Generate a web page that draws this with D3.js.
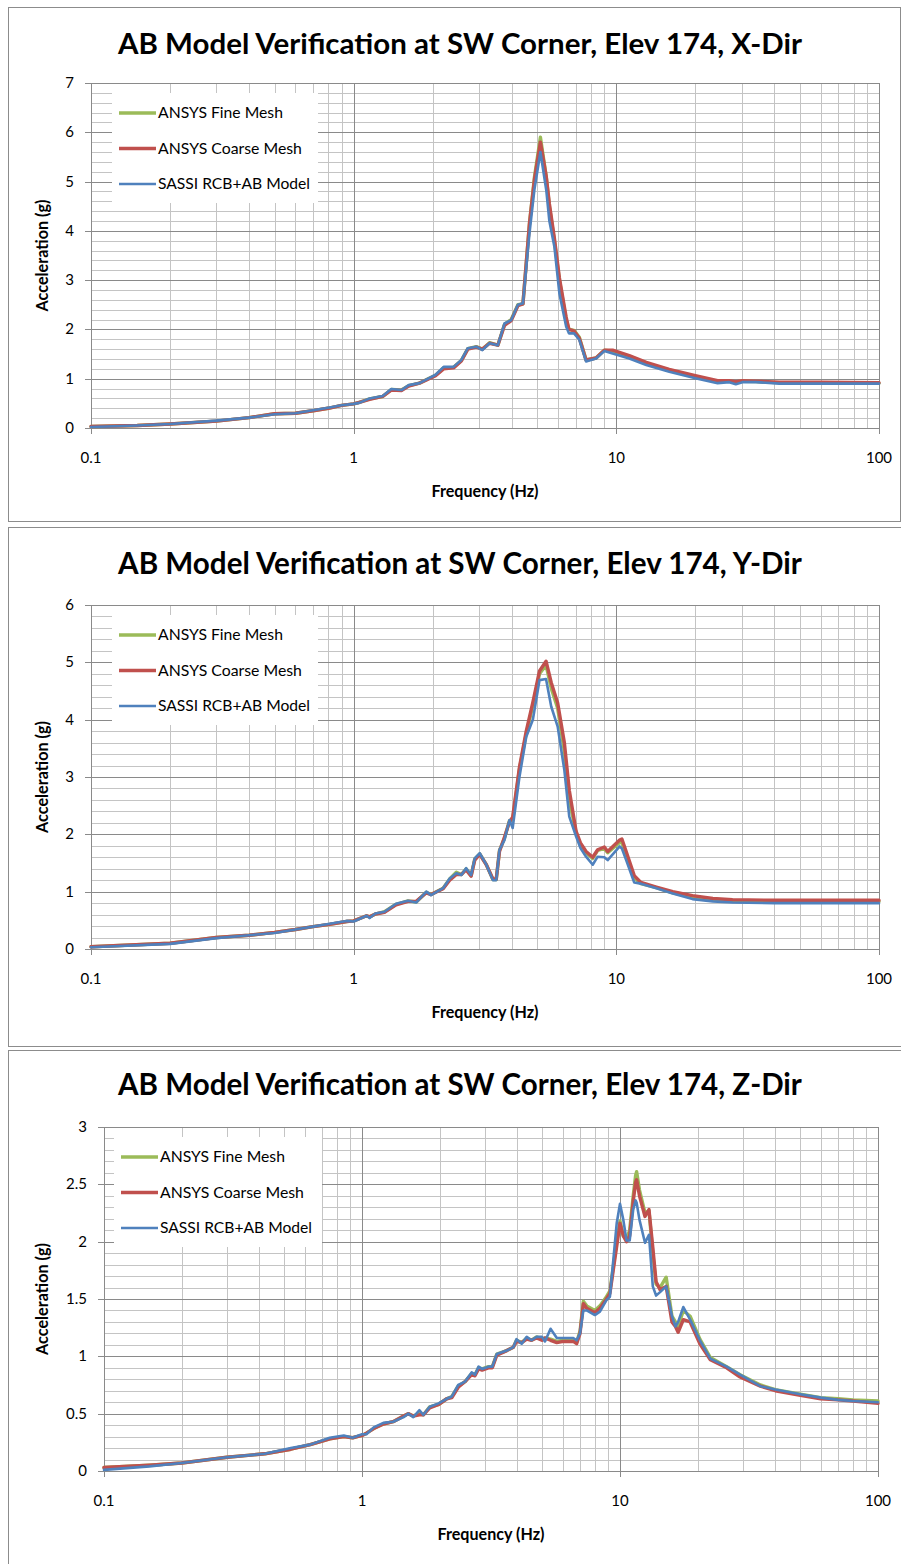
<!DOCTYPE html>
<html><head><meta charset="utf-8">
<script src="https://cdn.jsdelivr.net/npm/d3@7"></script>
<style>
body{margin:0;background:#fff}
svg{display:block}
text{font-family:Lato,"Open Sans","DejaVu Sans",sans-serif;fill:#000}
</style>
</head><body>
<svg id="c" width="901" height="1564"></svg>
<script>
// ---------------- DATA ----------------
const seriesNames = ["ANSYS Fine Mesh", "ANSYS Coarse Mesh", "SASSI RCB+AB Model"];
const titles = [
  "AB Model Verification at SW Corner, Elev 174, X-Dir",
  "AB Model Verification at SW Corner, Elev 174, Y-Dir",
  "AB Model Verification at SW Corner, Elev 174, Z-Dir"
];
const xAxisTitle = "Frequency (Hz)";
const yAxisTitle = "Acceleration (g)";
const xTicks = [0.1, 1, 10, 100];
const xTickLabels = ["0.1", "1", "10", "100"];

const yTicksX = [0, 1, 2, 3, 4, 5, 6, 7];
const yTickLabelsX = ["0", "1", "2", "3", "4", "5", "6", "7"];
const yTicksY = [0, 1, 2, 3, 4, 5, 6];
const yTickLabelsY = ["0", "1", "2", "3", "4", "5", "6"];
const yTicksZ = [0, 0.5, 1, 1.5, 2, 2.5, 3];
const yTickLabelsZ = ["0", "0.5", "1", "1.5", "2", "2.5", "3"];

// X-Dir
const freqX   = [0.1,0.15,0.2,0.3,0.4,0.5,0.6,0.7,0.8,0.9,1.0,1.05,1.15,1.29,1.39,1.52,1.62,1.78,1.92,2.05,2.2,2.4,2.57,2.72,2.93,3.09,3.29,3.54,3.75,3.98,4.22,4.41,4.67,4.88,5.14,5.41,5.56,5.81,6.07,6.44,6.6,6.9,7.23,7.67,8.37,9.0,9.68,11.2,13,15.9,20,24.3,26.9,28.5,30.2,34,41.7,60,100];
const fineX   = [0.03,0.05,0.08,0.14,0.21,0.29,0.30,0.35,0.40,0.46,0.49,0.52,0.59,0.64,0.78,0.77,0.86,0.91,1.00,1.07,1.22,1.23,1.37,1.61,1.65,1.60,1.73,1.68,2.10,2.20,2.50,2.52,4.15,5.10,5.90,5.10,4.50,3.80,3.00,2.20,2.00,1.98,1.84,1.38,1.42,1.58,1.56,1.45,1.31,1.17,1.04,0.94,0.95,0.93,0.95,0.94,0.92,0.92,0.91];
const coarseX = [0.03,0.05,0.08,0.14,0.21,0.29,0.30,0.35,0.40,0.46,0.49,0.52,0.58,0.64,0.77,0.76,0.85,0.91,0.99,1.06,1.20,1.22,1.36,1.60,1.64,1.60,1.72,1.68,2.08,2.18,2.48,2.52,4.15,5.05,5.80,5.10,4.55,3.85,3.05,2.25,2.00,1.97,1.82,1.38,1.42,1.58,1.58,1.47,1.33,1.19,1.06,0.96,0.96,0.94,0.96,0.95,0.93,0.93,0.92];
const sassiX  = [0.02,0.05,0.08,0.15,0.21,0.28,0.30,0.36,0.41,0.46,0.49,0.51,0.60,0.65,0.79,0.77,0.87,0.91,1.00,1.08,1.24,1.24,1.38,1.62,1.65,1.58,1.72,1.68,2.12,2.19,2.50,2.53,3.95,4.85,5.60,4.83,4.20,3.68,2.73,2.06,1.92,1.92,1.79,1.35,1.41,1.56,1.51,1.41,1.28,1.14,1.01,0.91,0.93,0.89,0.93,0.93,0.90,0.90,0.90];

// Y-Dir
const freqY   = [0.1,0.2,0.3,0.4,0.5,0.6,0.7,0.81,0.94,1.0,1.12,1.15,1.21,1.31,1.45,1.61,1.73,1.89,1.97,2.19,2.32,2.46,2.57,2.68,2.80,2.89,3.02,3.2,3.39,3.49,3.59,3.75,3.92,4.03,4.28,4.54,4.81,5.10,5.40,5.65,5.98,6.34,6.62,7.03,7.3,7.67,8.13,8.49,9.0,9.27,10.3,10.5,10.9,11.7,12.4,14.2,16.4,19.5,23.3,27.7,40,100];
const fineY   = [0.04,0.10,0.20,0.24,0.29,0.34,0.39,0.43,0.48,0.49,0.58,0.56,0.61,0.65,0.78,0.84,0.82,0.99,0.95,1.06,1.22,1.34,1.30,1.40,1.28,1.57,1.66,1.47,1.21,1.21,1.72,1.93,2.24,2.25,3.15,3.75,4.25,4.80,4.95,4.55,4.20,3.45,2.60,2.02,1.82,1.68,1.58,1.72,1.75,1.68,1.86,1.85,1.65,1.24,1.14,1.07,0.98,0.90,0.86,0.84,0.83,0.83];
const coarseY = [0.04,0.10,0.20,0.24,0.29,0.34,0.39,0.43,0.48,0.49,0.58,0.56,0.61,0.64,0.77,0.83,0.83,0.98,0.95,1.05,1.20,1.30,1.30,1.38,1.27,1.55,1.65,1.47,1.22,1.22,1.70,1.95,2.22,2.30,3.18,3.80,4.30,4.85,5.02,4.65,4.29,3.60,2.77,2.05,1.85,1.70,1.60,1.73,1.78,1.70,1.90,1.92,1.70,1.28,1.16,1.08,1.00,0.93,0.88,0.86,0.85,0.85];
const sassiY  = [0.03,0.09,0.19,0.24,0.28,0.34,0.39,0.44,0.49,0.48,0.58,0.54,0.62,0.65,0.79,0.84,0.81,1.00,0.94,1.06,1.23,1.32,1.29,1.41,1.29,1.58,1.67,1.47,1.20,1.20,1.73,1.90,2.25,2.11,3.01,3.70,4.00,4.69,4.71,4.23,3.88,3.12,2.31,1.96,1.76,1.61,1.47,1.61,1.60,1.55,1.79,1.75,1.55,1.16,1.14,1.06,0.97,0.87,0.83,0.81,0.80,0.80];

// Z-Dir
const freqZ   = [0.1,0.15,0.2,0.3,0.42,0.53,0.63,0.75,0.85,0.92,1.0,1.04,1.11,1.21,1.32,1.45,1.51,1.58,1.67,1.73,1.83,1.98,2.13,2.23,2.36,2.51,2.66,2.74,2.83,2.92,3.09,3.2,3.33,3.64,3.86,3.97,4.16,4.35,4.54,4.75,4.98,5.12,5.38,5.69,6.03,6.59,6.79,7.0,7.21,7.43,7.99,8.36,8.86,9.14,9.71,10.0,10.3,10.6,10.9,11.25,11.5,11.6,11.9,12.5,12.95,13.4,13.8,14.3,15.1,15.9,16.4,16.8,17.6,18.7,20.4,22.4,25.9,29.2,35,40,50,60,70,80,100];
const fineZ   = [0.03,0.05,0.07,0.12,0.15,0.19,0.23,0.28,0.30,0.29,0.31,0.33,0.37,0.41,0.43,0.48,0.50,0.48,0.50,0.49,0.56,0.58,0.63,0.65,0.74,0.78,0.85,0.84,0.90,0.89,0.91,0.91,1.02,1.05,1.08,1.14,1.12,1.16,1.14,1.17,1.15,1.16,1.15,1.13,1.14,1.14,1.12,1.22,1.48,1.44,1.40,1.44,1.52,1.57,2.00,2.18,2.05,2.02,2.10,2.40,2.58,2.61,2.45,2.25,2.27,1.90,1.63,1.60,1.69,1.35,1.30,1.26,1.40,1.35,1.15,0.99,0.91,0.84,0.75,0.71,0.67,0.64,0.63,0.62,0.61];
const coarseZ = [0.03,0.05,0.07,0.12,0.15,0.19,0.23,0.28,0.30,0.29,0.31,0.33,0.37,0.41,0.43,0.48,0.50,0.48,0.49,0.49,0.55,0.58,0.63,0.64,0.73,0.78,0.84,0.83,0.89,0.88,0.90,0.90,1.01,1.05,1.08,1.13,1.12,1.15,1.14,1.16,1.14,1.16,1.14,1.12,1.13,1.13,1.11,1.20,1.46,1.42,1.38,1.42,1.50,1.55,1.96,2.16,2.05,2.00,2.05,2.35,2.52,2.54,2.40,2.22,2.28,1.95,1.65,1.58,1.61,1.30,1.26,1.21,1.32,1.30,1.11,0.97,0.90,0.82,0.74,0.70,0.66,0.63,0.62,0.61,0.59];
const sassiZ  = [0.01,0.04,0.07,0.12,0.15,0.20,0.23,0.29,0.31,0.29,0.32,0.32,0.38,0.42,0.43,0.47,0.50,0.47,0.53,0.49,0.56,0.59,0.63,0.65,0.75,0.78,0.86,0.84,0.91,0.89,0.91,0.91,1.02,1.05,1.08,1.15,1.11,1.17,1.14,1.17,1.17,1.13,1.24,1.16,1.16,1.16,1.14,1.20,1.40,1.40,1.36,1.39,1.49,1.52,2.16,2.33,2.19,2.01,2.01,2.28,2.36,2.34,2.19,1.99,2.06,1.61,1.53,1.56,1.61,1.35,1.26,1.30,1.43,1.32,1.14,0.98,0.91,0.84,0.74,0.71,0.67,0.64,0.62,0.61,0.60];

// ---------------- LAYOUT / STYLE ----------------
const colors = ["#9BBB59", "#C0504D", "#4F81BD"];
const widths = [3.4, 3.4, 2.6];
const legendWidths = [3.6, 3.6, 2.4];

const charts = [
  {title: titles[0], freq: freqX, series: [fineX, coarseX, sassiX], yMax: 7, yTicks: yTicksX, yLabels: yTickLabelsX, minorStep: 0.2,
   panel: {x: 8, y: 7, w: 892, h: 514}, plot: {l: 91, r: 879, t: 83, b: 428}, titleY: 54, legend: {x: 112, y: 93, w: 206, h: 110}},
  {title: titles[1], freq: freqY, series: [fineY, coarseY, sassiY], yMax: 6, yTicks: yTicksY, yLabels: yTickLabelsY, minorStep: 0.2,
   panel: {x: 8, y: 527, w: 894, h: 519}, plot: {l: 91, r: 879, t: 605, b: 949}, titleY: 574, legend: {x: 112, y: 615, w: 206, h: 110}},
  {title: titles[2], freq: freqZ, series: [fineZ, coarseZ, sassiZ], yMax: 3, yTicks: yTicksZ, yLabels: yTickLabelsZ, minorStep: 0.1,
   panel: {x: 8, y: 1050, w: 894, h: 520}, plot: {l: 104, r: 878, t: 1127, b: 1471}, titleY: 1095, legend: {x: 114, y: 1137, w: 208, h: 110}}
];

const svg = d3.select("#c");

function fitText(sel, target) {
  const w = sel.node().getComputedTextLength();
  const fs = parseFloat(sel.attr("font-size"));
  sel.attr("font-size", (fs * target / w).toFixed(2));
}

charts.forEach((c, ci) => {
  const g = svg.append("g");
  const P = c.plot;
  // panel border
  g.append("rect").attr("x", c.panel.x + 0.5).attr("y", c.panel.y + 0.5)
    .attr("width", c.panel.w).attr("height", c.panel.h)
    .attr("fill", "#fff").attr("stroke", "#8c8c8c").attr("stroke-width", 1);

  const x = d3.scaleLog().domain([0.1, 100]).range([P.l, P.r]);
  const y = d3.scaleLinear().domain([0, c.yMax]).range([P.b, P.t]);

  // minor grid
  const xMinor = [];
  [0.1, 1, 10].forEach(d => { for (let k = 2; k <= 9; k++) xMinor.push(d * k); });
  const yMinor = d3.range(0, c.yMax + 1e-9, c.minorStep).filter(v => Math.abs(v / (c.yTicks[1] - c.yTicks[0]) - Math.round(v / (c.yTicks[1] - c.yTicks[0]))) > 1e-6);

  g.append("g").selectAll("line").data(yMinor).join("line")
    .attr("x1", P.l).attr("x2", P.r)
    .attr("y1", d => Math.round(y(d)) + 0.5).attr("y2", d => Math.round(y(d)) + 0.5)
    .attr("stroke", "#c4c4c4").attr("stroke-width", 1);
  g.append("g").selectAll("line").data(xMinor).join("line")
    .attr("y1", P.t).attr("y2", P.b)
    .attr("x1", d => Math.round(x(d)) + 0.5).attr("x2", d => Math.round(x(d)) + 0.5)
    .attr("stroke", "#c4c4c4").attr("stroke-width", 1);

  // major grid
  g.append("g").selectAll("line").data(c.yTicks).join("line")
    .attr("x1", P.l - 6).attr("x2", P.r)
    .attr("y1", d => Math.round(y(d)) + 0.5).attr("y2", d => Math.round(y(d)) + 0.5)
    .attr("stroke", "#8a8a8a").attr("stroke-width", 1);
  g.append("g").selectAll("line").data(xTicks).join("line")
    .attr("y1", P.t).attr("y2", P.b + 6)
    .attr("x1", d => Math.round(x(d)) + 0.5).attr("x2", d => Math.round(x(d)) + 0.5)
    .attr("stroke", "#8a8a8a").attr("stroke-width", 1);

  // tick labels
  g.append("g").selectAll("text").data(c.yTicks).join("text")
    .attr("x", P.l - 17).attr("y", d => y(d) + 5)
    .attr("text-anchor", "end").attr("font-size", 15)
    .text((d, i) => c.yLabels[i]);
  g.append("g").selectAll("text").data(xTicks).join("text")
    .attr("x", d => x(d)).attr("y", P.b + 35)
    .attr("text-anchor", "middle").attr("font-size", 15)
    .text((d, i) => xTickLabels[i]);

  // axis titles
  const xt = g.append("text").attr("x", (P.l + P.r) / 2).attr("y", P.b + 69)
    .attr("text-anchor", "middle").attr("font-weight", "bold").attr("font-size", 13).text(xAxisTitle);
  fitText(xt, 107);
  const yt = g.append("text").attr("transform", `translate(48,${(P.t + P.b) / 2}) rotate(-90)`)
    .attr("text-anchor", "middle").attr("font-weight", "bold").attr("font-size", 13).text(yAxisTitle);
  fitText(yt, 112);

  // title
  const tt = g.append("text").attr("x", 460).attr("y", c.titleY)
    .attr("text-anchor", "middle").attr("font-weight", "bold").attr("font-size", 26).text(c.title);
  fitText(tt, 684);

  // series
  const line = d3.line().x((d, i) => x(c.freq[i])).y(d => y(d)).curve(d3.curveLinear);
  c.series.forEach((vals, si) => {
    g.append("path").datum(vals).attr("d", line)
      .attr("fill", "none").attr("stroke", colors[si]).attr("stroke-width", widths[si])
      .attr("stroke-linejoin", "round").attr("stroke-linecap", "round");
  });

  // legend
  const L = c.legend;
  const lg = g.append("g");
  lg.append("rect").attr("x", L.x).attr("y", L.y).attr("width", L.w).attr("height", L.h).attr("fill", "#fff");
  seriesNames.forEach((name, si) => {
    const cy = L.y + 20 + si * 35.5;
    lg.append("line").attr("x1", L.x + 7).attr("x2", L.x + 44).attr("y1", cy).attr("y2", cy)
      .attr("stroke", colors[si]).attr("stroke-width", legendWidths[si]);
    const t = lg.append("text").attr("x", L.x + 46).attr("y", cy + 5).attr("font-size", 15).text(name);
    if (si === 1) fitText(t, 144);
    else if (si === 0) fitText(t, 125);
    else fitText(t, 152);
  });
});
</script>
</body></html>
